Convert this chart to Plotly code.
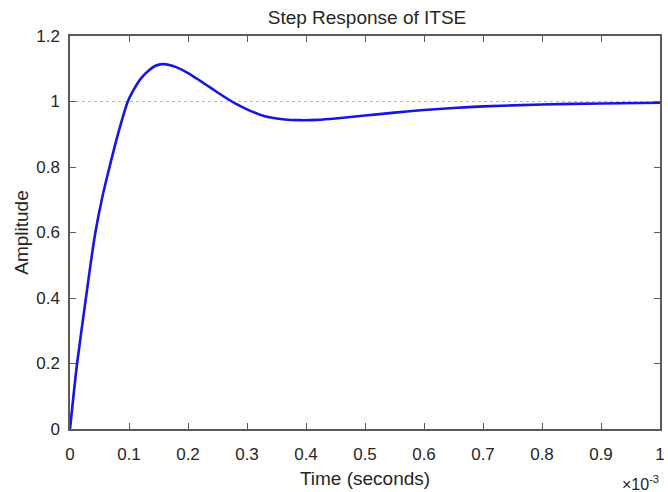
import plotly.graph_objects as go

# Step response (time in units of 1e-3 s)
time_ms = [0, 0.012, 0.027, 0.035, 0.043, 0.055, 0.067, 0.082, 0.098, 0.108,
           0.12, 0.135, 0.145, 0.157, 0.17, 0.18, 0.20, 0.22, 0.24, 0.26,
           0.28, 0.30, 0.33, 0.36, 0.39, 0.42, 0.45, 0.5, 0.55, 0.6,
           0.65, 0.7, 0.8, 0.9, 1.0]
amplitude = [0, 0.2, 0.4, 0.505, 0.6, 0.71, 0.8, 0.905, 1.0, 1.036,
             1.07, 1.097, 1.109, 1.114, 1.111, 1.105, 1.087, 1.064, 1.040, 1.016,
             0.994, 0.976, 0.955, 0.946, 0.943, 0.944, 0.948, 0.957, 0.966, 0.974,
             0.980, 0.985, 0.991, 0.994, 0.996]

steady_x = [0, 1.0]
steady_y = [1, 1]

x_ticks = [0, 0.1, 0.2, 0.3, 0.4, 0.5, 0.6, 0.7, 0.8, 0.9, 1.0]
x_labels = ["0", "0.1", "0.2", "0.3", "0.4", "0.5", "0.6", "0.7", "0.8", "0.9", "1"]
y_ticks = [0, 0.2, 0.4, 0.6, 0.8, 1.0, 1.2]
y_labels = ["0", "0.2", "0.4", "0.6", "0.8", "1", "1.2"]

font = "Liberation Sans, Arial, sans-serif"
axis_col = "#5a5a5a"
text_col = "#262626"
tick_size = 17
label_size = 19

fig = go.Figure()
fig.add_trace(go.Scatter(x=steady_x, y=steady_y, mode="lines",
                         line=dict(color="#b8b8b8", width=1, dash="dot"),
                         hoverinfo="skip", showlegend=False))
fig.add_trace(go.Scatter(x=time_ms, y=amplitude, mode="lines",
                         line=dict(color="#1515e6", width=2.6, shape="spline", smoothing=0.6),
                         showlegend=False))

fig.update_layout(
    width=668, height=492,
    margin=dict(l=70, r=3, t=36, b=63),
    paper_bgcolor="white", plot_bgcolor="white",
    font=dict(family=font, size=tick_size, color=text_col),
    title=dict(text="Step Response of ITSE", x=367 / 668, xanchor="center",
               y=1 - 17 / 492, yanchor="middle",
               font=dict(family=font, size=label_size, color=text_col)),
    xaxis=dict(range=[0, 1.0], tickvals=x_ticks, ticktext=x_labels,
               ticks="inside", ticklen=6, tickwidth=1, tickcolor=axis_col,
               showline=True, linecolor=axis_col, linewidth=1.5, mirror="ticks",
               showgrid=False, zeroline=False, ticklabelstandoff=9,
               title=dict(text="Time (seconds)", standoff=9,
                          font=dict(family=font, size=label_size, color=text_col)),
               tickfont=dict(family=font, size=tick_size, color=text_col)),
    yaxis=dict(range=[0, 1.2], tickvals=y_ticks, ticktext=y_labels,
               ticks="inside", ticklen=6, tickwidth=1, tickcolor=axis_col,
               showline=True, linecolor=axis_col, linewidth=1.5, mirror="ticks",
               showgrid=False, zeroline=False, ticklabelstandoff=5,
               title=dict(text="Amplitude", standoff=3,
                          font=dict(family=font, size=label_size, color=text_col)),
               tickfont=dict(family=font, size=tick_size, color=text_col)),
    annotations=[dict(text="×10<sup>-3</sup>", xref="paper", yref="paper",
                      x=(665 - 70) / 595 + 1 / 595, y=-(483 - 429) / 393,
                      xanchor="right", yanchor="middle",
                      showarrow=False, font=dict(family=font, size=16, color=text_col))],
)

fig.write_html("out.html")
